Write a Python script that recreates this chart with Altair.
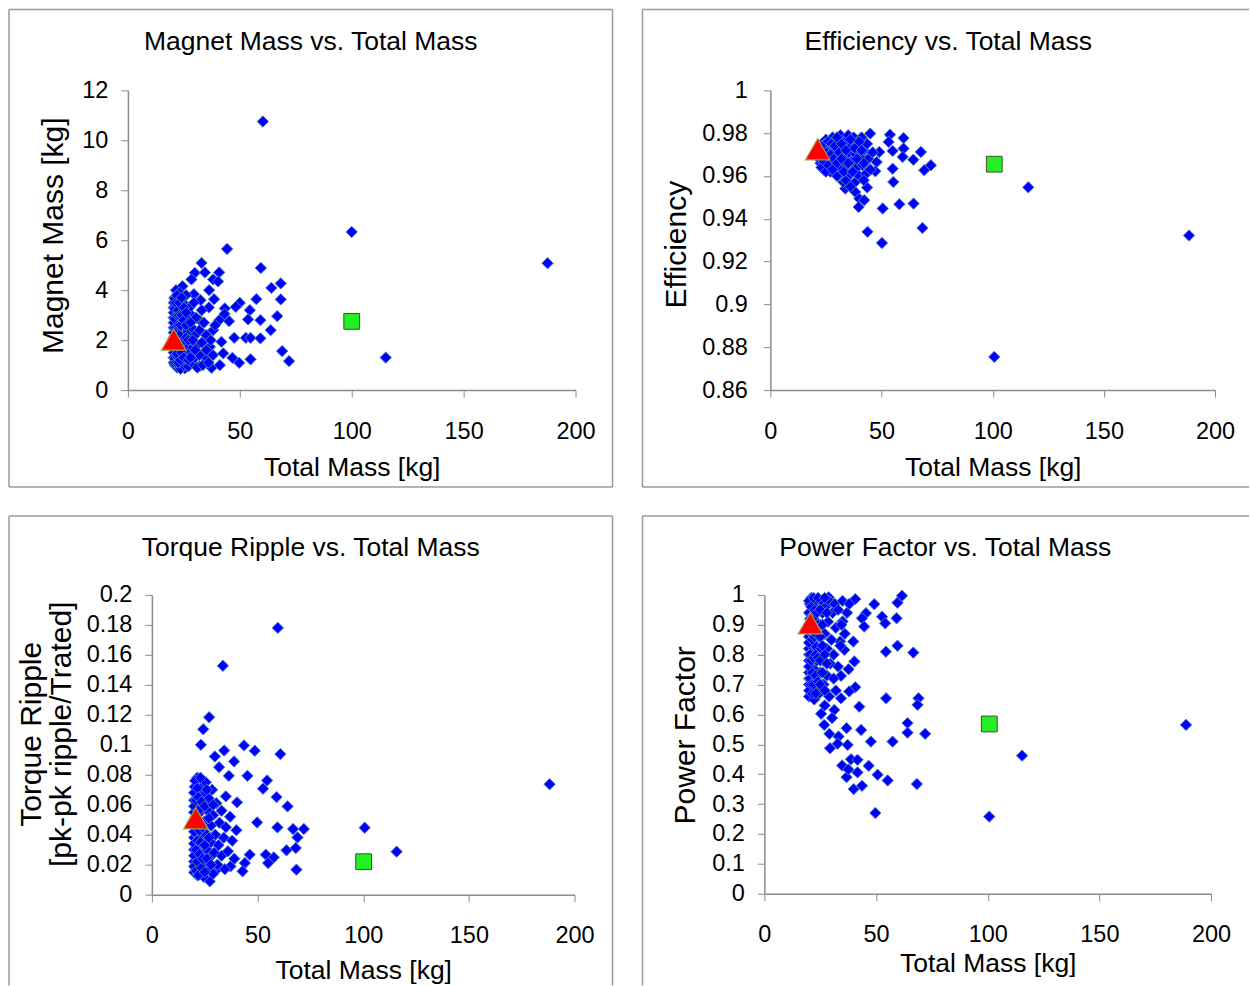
import altair as alt
import pandas as pd

FONT = "Liberation Sans, Arial, Helvetica, sans-serif"
FRAME_COLOR = "#9a9a9a"
AXIS_COLOR = "#8c8c8c"

# ---------------- data (Total Mass [kg], value) ----------------
mag_points = [
    (60.3, 10.75), (100, 6.33), (115.2, 1.3), (187.5, 5.08),
    (44.3, 5.65), (32.9, 5.09), (29.9, 4.69), (34.4, 4.71), (40.8, 4.71), (28.4, 4.43),
    (38.1, 4.43), (40.3, 4.35), (59.4, 4.89), (64.1, 4.09), (68.3, 4.27), (68.3, 3.63),
    (57.4, 3.64), (50, 3.49), (48.2, 3.33), (54.5, 3.2), (43.3, 3.27), (43.2, 3.05),
    (40.8, 2.8), (45.2, 2.76), (53.7, 2.83), (59.2, 2.8), (66.7, 2.96), (63.8, 2.4),
    (36.3, 4.0), (38.5, 3.64), (36.2, 3.31), (32.5, 3.6), (29.5, 3.84), (24.4, 4.16),
    (22.5, 3.73), (47.5, 2.09), (52.7, 2.09), (54.8, 2.09), (59.2, 2.07), (68.9, 1.56),
    (72, 1.16), (54.8, 1.23), (49.7, 1.09), (46.7, 1.29), (37.4, 0.89), (32.1, 0.96),
    (25.4, 0.87), (41.1, 1.0), (42.6, 1.47), (41.8, 1.93), (38.1, 2.4), (34.4, 1.33),
    (36.6, 1.73), (32.1, 2.8), (28.4, 3.0),
    (20.5, 1.3), (20.5, 1.7), (20.5, 2.1), (20.5, 2.5), (20.5, 2.9), (20.5, 3.3), (20.8, 3.7),
    (21, 1.0), (21.2, 1.5), (21.2, 2.3), (21.3, 3.1), (21.5, 4.0), (21.8, 1.9), (21.8, 2.7),
    (22, 0.9), (22, 1.2), (22, 3.4), (22.3, 1.6), (22.3, 2.2), (22.5, 2.9), (22.8, 1.0),
    (23, 1.4), (23, 2.5), (23, 3.9), (23.3, 1.9), (23.5, 3.2), (23.5, 0.85), (24, 1.2),
    (24, 2.2), (24, 2.8), (24.5, 1.6), (24.5, 3.5), (25, 1.0), (25, 2.0), (25, 2.5),
    (25.5, 3.0), (26, 1.3), (26, 1.8), (26, 3.8), (26.5, 2.3), (27, 0.95), (27, 2.8),
    (27.5, 1.5), (27.5, 3.3), (28, 2.0), (28.5, 1.1), (28.5, 2.5), (29, 1.7), (29.5, 3.5),
    (30, 2.2), (30, 1.3), (30.5, 2.9), (31, 0.9), (31, 1.8), (32, 2.4), (32, 1.4),
    (33, 3.2), (33, 1.9), (33.5, 1.0), (34, 2.7), (35, 1.6), (35, 2.2), (36, 1.1),
    (37, 2.0), (38, 1.4), (39, 2.6),
    (20.5, 1.1), (20.5, 1.5), (20.5, 1.9), (20.5, 2.3), (20.5, 2.7), (20.5, 3.1), (20.5, 3.5),
    (21, 1.25), (21, 1.65), (21, 2.05), (21, 2.45), (21, 2.85), (21, 3.25), (21, 3.65),
    (21.5, 1.1), (21.5, 1.4), (21.5, 2.1), (21.5, 2.5), (21.5, 3.5), (22, 1.45), (22, 1.8),
    (22, 2.4), (22, 3.0), (22, 3.8), (22.5, 1.1), (22.5, 2.0), (22.5, 2.6), (22.5, 3.2),
    (23, 1.7), (23, 2.2), (23, 3.0), (23, 3.5), (23.5, 1.2), (23.5, 2.6), (24, 1.5),
    (24, 1.9), (24, 3.0), (24, 3.7), (25, 1.3), (25, 2.8), (25, 3.3), (26, 2.1),
    (26, 2.6), (26, 3.1), (27, 1.2), (27, 2.0), (28, 1.3), (28, 2.7), (29, 2.0), (30, 1.6),
]
mag_green = (100, 2.75)
mag_red = (20.5, 2.02)

eff_points = [
    (100.7, 0.8755), (116, 0.9547), (188.3, 0.9322),
    (44.9, 0.9798), (53.8, 0.9793), (59.9, 0.9777), (53.2, 0.9759), (49, 0.9712), (55, 0.9717),
    (59.9, 0.9728), (59.5, 0.9689), (64.3, 0.9676), (67.7, 0.9712), (72.2, 0.965), (69.2, 0.9627),
    (55, 0.9634), (47.8, 0.9665), (47.2, 0.9622), (55.3, 0.9572), (43.5, 0.9546), (38.2, 0.9525),
    (40, 0.9494), (42.2, 0.9487), (39.7, 0.9455), (33.7, 0.9541), (32.8, 0.9572), (50.5, 0.9448),
    (58, 0.9468), (64.4, 0.9471), (43.7, 0.9339), (50.2, 0.9287), (68.4, 0.9357),
    (21.5, 0.969), (22, 0.972), (22.5, 0.966), (23, 0.975), (23.5, 0.969), (24, 0.963),
    (24.5, 0.972), (25, 0.977), (25.5, 0.966), (26, 0.97), (26.5, 0.974), (27, 0.962),
    (27.5, 0.968), (28, 0.978), (28.5, 0.972), (29, 0.965), (29.5, 0.97), (30, 0.96),
    (30.5, 0.975), (31, 0.967), (31.5, 0.979), (32, 0.963), (32.5, 0.972), (33, 0.968),
    (33.5, 0.976), (34, 0.958), (34.5, 0.965), (35, 0.979), (35.5, 0.971), (36, 0.961),
    (36.5, 0.974), (37, 0.967), (37.5, 0.978), (38, 0.957), (38.5, 0.97), (39, 0.964),
    (39.5, 0.975), (40, 0.96), (40.5, 0.969), (41, 0.978), (41.5, 0.965), (42, 0.972),
    (43, 0.961), (43.5, 0.975), (44, 0.968), (45, 0.963), (46, 0.971), (42, 0.958), (36, 0.955),
    (22, 0.968), (22.5, 0.973), (23, 0.964), (23.5, 0.972), (24, 0.967), (24.5, 0.975),
    (25, 0.962), (25, 0.971), (26, 0.965), (26, 0.976), (27, 0.97), (27.5, 0.975),
    (28, 0.963), (28.5, 0.968), (29, 0.974), (30, 0.966), (30, 0.978), (31, 0.971),
    (32, 0.975), (32, 0.968), (33, 0.962), (34, 0.972), (35, 0.966), (36, 0.977),
    (37, 0.962), (38, 0.973), (39, 0.968), (40, 0.976), (41, 0.972), (42, 0.966),
]
eff_green = (100.7, 0.9655)
eff_red = (21.3, 0.9725)

rip_points = [
    (59.6, 0.178), (33.6, 0.1527), (100.7, 0.0447), (115.8, 0.0287), (188.2, 0.0737),
    (27.1, 0.1184), (24.3, 0.1104), (23.2, 0.1), (34.2, 0.0962), (43.6, 0.0996), (48.7, 0.096),
    (60.8, 0.0938), (29.8, 0.0922), (38.9, 0.0889), (31.8, 0.0851), (36.4, 0.0793), (45.2, 0.0793),
    (54.5, 0.0762), (52.6, 0.0707), (59, 0.0651), (64.2, 0.0589), (35, 0.0656), (40.3, 0.0616),
    (49.8, 0.0482), (59.4, 0.0449), (66.8, 0.0438), (71.9, 0.0438), (68.9, 0.0382), (68.1, 0.0311),
    (63.7, 0.0296), (53.9, 0.0267), (57.7, 0.0249), (55, 0.0211), (46.3, 0.0267), (44, 0.0211),
    (68.4, 0.0167), (42.9, 0.0156), (37.2, 0.0189), (27.4, 0.0089), (30.6, 0.0167),
    (20, 0.015), (20, 0.022), (20, 0.03), (20, 0.038), (20, 0.046), (20, 0.055), (20, 0.063),
    (20.3, 0.072), (20.5, 0.018), (20.8, 0.026), (20.8, 0.034), (21, 0.042), (21, 0.059),
    (21.3, 0.067), (21.5, 0.013), (21.5, 0.078), (22, 0.021), (22, 0.03), (22, 0.047),
    (22.3, 0.038), (22.5, 0.062), (22.8, 0.055), (23, 0.016), (23, 0.071), (23.5, 0.026),
    (23.5, 0.043), (24, 0.034), (24, 0.058), (24.5, 0.012), (24.5, 0.066), (25, 0.021),
    (25, 0.049), (25.5, 0.075), (26, 0.03), (26, 0.04), (26.5, 0.056), (27, 0.017),
    (27, 0.064), (27.5, 0.025), (28, 0.046), (28, 0.035), (28.5, 0.07), (29, 0.014),
    (29, 0.053), (29.5, 0.028), (30, 0.04), (30.5, 0.061), (31, 0.02), (31.5, 0.033),
    (32, 0.048), (33, 0.026), (33, 0.056), (34, 0.038), (34.5, 0.017), (35, 0.045),
    (36, 0.029), (37, 0.052), (38, 0.036), (39, 0.024), (40, 0.043),
    (20, 0.019), (20, 0.026), (20, 0.034), (20, 0.042), (20, 0.05), (20, 0.059), (20, 0.068),
    (20.5, 0.076), (21, 0.016), (21, 0.03), (21, 0.05), (21, 0.063), (21.5, 0.022),
    (21.5, 0.036), (21.5, 0.071), (22, 0.013), (22, 0.056), (22, 0.065), (22.5, 0.043),
    (22.5, 0.027), (23, 0.035), (23, 0.049), (23, 0.078), (23.5, 0.018), (23.5, 0.062),
    (24, 0.024), (24, 0.045), (25, 0.015), (25, 0.033), (25, 0.059), (26, 0.024),
    (26, 0.07), (27, 0.038), (27, 0.051), (28, 0.02), (29, 0.06),
]
rip_green = (100.2, 0.022)
rip_red = (20.8, 0.051)

pf_points = [
    (100.7, 0.258), (115.4, 0.462), (188.8, 0.565),
    (28.8, 0.992), (40.7, 0.986), (49.2, 0.969), (61.6, 0.997), (59.6, 0.974), (45.5, 0.939),
    (43.7, 0.922), (52.7, 0.927), (54.1, 0.905), (59.2, 0.922), (44.7, 0.894), (35, 0.911),
    (39.8, 0.844), (33.9, 0.844), (35.8, 0.816), (54.4, 0.81), (59.6, 0.83), (66.7, 0.807),
    (40.3, 0.777), (37.7, 0.751), (34.3, 0.729), (40.7, 0.691), (38, 0.677), (34.3, 0.654),
    (54.5, 0.654), (69, 0.654), (68.6, 0.632), (42.5, 0.626), (31.3, 0.615), (25.4, 0.602),
    (30.3, 0.588), (26.8, 0.565), (36.8, 0.554), (43.3, 0.548), (64.1, 0.571), (64.1, 0.539),
    (72, 0.535), (29.1, 0.535), (33.2, 0.526), (47.7, 0.509), (57.4, 0.509), (29.4, 0.487),
    (32.8, 0.502), (37.3, 0.498), (34.8, 0.429), (38.8, 0.45), (41.7, 0.448), (46.7, 0.428),
    (50.7, 0.398), (55.2, 0.379), (36.8, 0.39), (41.7, 0.406), (37.6, 0.416), (40, 0.35),
    (43.7, 0.361), (68.3, 0.367), (49.7, 0.27),
    (20, 0.66), (20, 0.7), (20, 0.74), (20, 0.78), (20, 0.82), (20, 0.86), (20, 0.94),
    (20.3, 0.97), (20.5, 0.68), (20.8, 0.76), (21, 0.84), (21, 0.99), (21.3, 0.72),
    (21.5, 0.8), (21.5, 0.93), (22, 0.88), (22, 0.96), (22.3, 0.65), (22.5, 0.75),
    (22.8, 0.83), (23, 0.91), (23, 0.98), (23.5, 0.7), (23.5, 0.78), (24, 0.86),
    (24, 0.95), (24.5, 0.67), (25, 0.74), (25, 0.9), (25.5, 0.82), (25.5, 0.98),
    (26, 0.94), (26.5, 0.7), (26.5, 0.78), (27, 0.87), (27.5, 0.96), (28, 0.73),
    (28, 0.82), (28.5, 0.91), (29, 0.66), (29, 0.98), (29.5, 0.77), (30, 0.85),
    (30.5, 0.94), (31, 0.72), (31, 0.8), (31.5, 0.97), (32, 0.89), (33, 0.76),
    (33, 0.95), (34, 0.83), (34.5, 0.9), (35, 0.98), (36, 0.87), (37, 0.94),
    (38, 0.97), (32, 0.68), (27, 0.63),
    (20, 0.68), (20, 0.72), (20, 0.76), (20, 0.8), (20, 0.84), (20, 0.88), (20, 0.9),
    (20, 0.98), (20.5, 0.72), (20.5, 0.8), (20.5, 0.92), (21, 0.7), (21, 0.78), (21, 0.88),
    (21, 0.96), (21.5, 0.67), (21.5, 0.74), (21.5, 0.85), (22, 0.7), (22, 0.79), (22, 0.92),
    (22, 0.99), (22.5, 0.86), (22.5, 0.95), (23, 0.67), (23, 0.73), (23, 0.8), (23, 0.87),
    (23.5, 0.94), (24, 0.71), (24, 0.79), (24, 0.9), (24, 0.99), (25, 0.7), (25, 0.78),
    (25, 0.86), (25, 0.95), (26, 0.74), (26, 0.83), (26, 0.9), (27, 0.68), (27, 0.8),
    (27, 0.99), (28, 0.77), (28, 0.94),
]
pf_green = (100.7, 0.568)
pf_red = (20.6, 0.905)

x_ticks = [0, 50, 100, 150, 200]
mag_ticks = [0, 2, 4, 6, 8, 10, 12]
eff_ticks = [0.86, 0.88, 0.9, 0.92, 0.94, 0.96, 0.98, 1]
rip_ticks = [0, 0.02, 0.04, 0.06, 0.08, 0.1, 0.12, 0.14, 0.16, 0.18, 0.2]
pf_ticks = [0, 0.1, 0.2, 0.3, 0.4, 0.5, 0.6, 0.7, 0.8, 0.9, 1]

dummy = pd.DataFrame({"a": [0]})


def panel(title, pts, green, red, ydom, yticks, ytitle, gw, gh, plot, title_xy,
          ytitle_x, ytitle_y, ylabpad, xtitle_y, frame):
    """gw, gh: whole panel box; plot = (left, top, right, bottom) of the data area inside it."""
    left, top, right, bottom = plot
    xaxis = alt.Axis(values=x_ticks, title="Total Mass [kg]", titleFontSize=26.5,
                     titleY=xtitle_y, titleBaseline="middle", labelPadding=22,
                     labelFlush=False, labelOverlap=False, offset=-(gh - bottom))
    yaxis = alt.Axis(values=yticks, format="~g", title=ytitle, titleFontSize=30,
                     titleAngle=270, titleX=ytitle_x, titleY=ytitle_y,
                     titleAlign="center", titleBaseline="middle", titleLineHeight=30,
                     labelPadding=ylabpad, labelFlush=False, labelOverlap=False,
                     offset=-left)
    xenc = alt.X("m:Q", scale=alt.Scale(domain=[0, 200], nice=False, zero=False,
                                        range=[left, right]), axis=xaxis)
    yenc = alt.Y("v:Q", scale=alt.Scale(domain=ydom, nice=False, zero=False,
                                        range=[bottom, top]), axis=yaxis)
    blue = pd.DataFrame(pts, columns=["m", "v"])
    pts_layer = alt.Chart(blue).mark_point(
        shape="diamond", size=130, fill="#0000ff", stroke="#4f81bd", strokeWidth=1,
        opacity=1, fillOpacity=1, filled=True
    ).encode(x=xenc, y=yenc)
    g = alt.Chart(pd.DataFrame([green], columns=["m", "v"])).mark_point(
        shape="square", size=250, fill="#22f022", stroke="#4a4a30", strokeWidth=1,
        opacity=1, fillOpacity=1, filled=True
    ).encode(x=xenc, y=yenc)
    r = alt.Chart(pd.DataFrame([red], columns=["m", "v"])).mark_point(
        shape="triangle-up", size=600, fill="#ff0000", stroke="#a0a040", strokeWidth=1.2,
        opacity=1, fillOpacity=1, filled=True
    ).encode(x=xenc, y=yenc)
    rules = [
        alt.Chart(dummy).mark_rule(color=FRAME_COLOR, strokeWidth=1.5).encode(
            x=alt.value(a), x2=alt.value(b), y=alt.value(c), y2=alt.value(d))
        for (a, b, c, d) in frame
    ]
    ttl = alt.Chart(pd.DataFrame({"t": [title]})).mark_text(
        font=FONT, fontSize=26.5, color="black", align="center", baseline="middle"
    ).encode(text="t:N", x=alt.value(title_xy[0]), y=alt.value(title_xy[1]))
    return alt.layer(pts_layer, g, r, *rules, ttl).properties(width=gw, height=gh)


p1 = panel("Magnet Mass vs. Total Mass", mag_points, mag_green, mag_red, [0, 12], mag_ticks,
           "Magnet Mass [kg]", 606, 480, (120, 82, 568, 382), (303, 34), -74, 227, 13, 77,
           [(1, 605, 1, 1), (1, 1, 1, 479), (605, 605, 1, 479), (1, 605, 479, 479)])
p2 = panel("Efficiency vs. Total Mass", eff_points, eff_green, eff_red, [0.86, 1], eff_ticks,
           "Efficiency", 608, 480, (129, 82, 574, 382), (307, 34), -94, 236, 16, 77,
           [(1, 608, 1, 1), (1, 1, 1, 479), (1, 608, 479, 479)])
p3 = panel("Torque Ripple vs. Total Mass", rip_points, rip_green, rip_red, [0, 0.2], rip_ticks,
           ["Torque Ripple", "[pk-pk ripple/Trated]"], 606, 471, (144, 80, 567, 380), (303, 33),
           -120, 219, 13, 76,
           [(1, 605, 1, 1), (1, 1, 1, 471), (605, 605, 1, 471)])
p4 = panel("Power Factor vs. Total Mass", pf_points, pf_green, pf_red, [0, 1], pf_ticks,
           "Power Factor", 608, 471, (123, 80, 570, 379), (304, 33), -79, 220, 13, 70,
           [(1, 608, 1, 1), (1, 1, 1, 471)])

chart = alt.vconcat(
    alt.hconcat(p1, p2, spacing=28),
    alt.hconcat(p3, p4, spacing=28),
    spacing=27,
).properties(
    padding={"left": 8, "top": 8, "right": 0, "bottom": 0},
    background="white",
).configure_view(
    stroke=None
).configure_axis(
    grid=False,
    domainColor=AXIS_COLOR,
    domainWidth=1.5,
    tickColor=AXIS_COLOR,
    tickSize=7,
    tickWidth=1,
    labelFont=FONT,
    labelFontSize=23.5,
    labelColor="black",
    labelOverlap=False,
    titleFont=FONT,
    titleFontWeight="normal",
    titleColor="black",
)

chart.save("out.html", embed_options={"renderer": "svg", "actions": False})
